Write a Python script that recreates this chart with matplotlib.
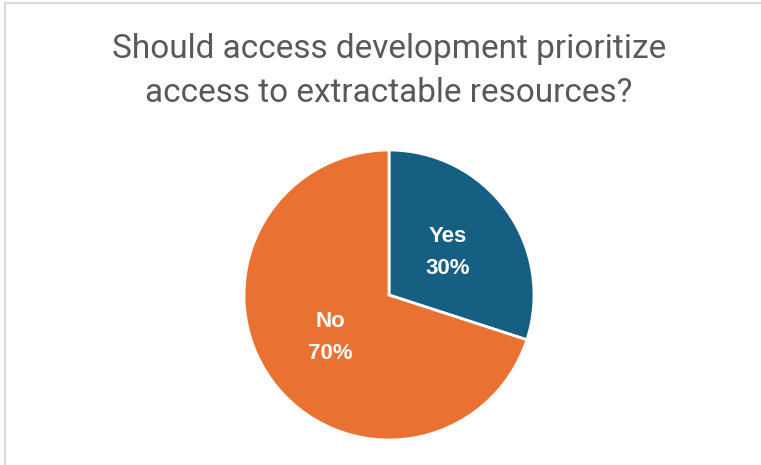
import matplotlib
matplotlib.use("Agg")
import matplotlib.pyplot as plt
from matplotlib.patches import Rectangle

title_lines = ["Should access development prioritize", "access to extractable resources?"]
labels = ["Yes", "No"]
values = [30, 70]
colors = ["#156082", "#E97132"]

fig = plt.figure(figsize=(7.61, 4.65), dpi=100)
fig.patch.set_facecolor("white")

# light grey chart frame (left and top edges visible)
fig.add_artist(Rectangle((5 / 761, -0.1), 1.2, (465 - 3) / 465 + 0.1,
                         transform=fig.transFigure, fill=False,
                         edgecolor="#D9D9D9", linewidth=1.5))

ax = fig.add_axes([(389 - 145) / 761, (465 - 295 - 145) / 465, 290 / 761, 290 / 465])
wedges, texts = ax.pie(values, colors=colors, startangle=90, counterclock=False,
                       labels=[f"{l}\n{v}%" for l, v in zip(labels, values)],
                       labeldistance=0.5,
                       wedgeprops=dict(edgecolor="white", linewidth=2),
                       textprops=dict(color="white", fontsize=16, fontweight="bold",
                                      ha="center", va="center", linespacing=1.7,
                                      family=["Liberation Sans", "DejaVu Sans"]))
ax.set_xlim(-1.0, 1.0)
ax.set_ylim(-1.0, 1.0)
ax.set_aspect("equal")
ax.axis("off")

fig.text(389 / 761, 1 - 71 / 465, "\n".join(title_lines), ha="center", va="center",
         fontsize=24, color="#595959", linespacing=1.5,
         family=["Roboto", "DejaVu Sans"])

fig.savefig("out.png", dpi=100)
